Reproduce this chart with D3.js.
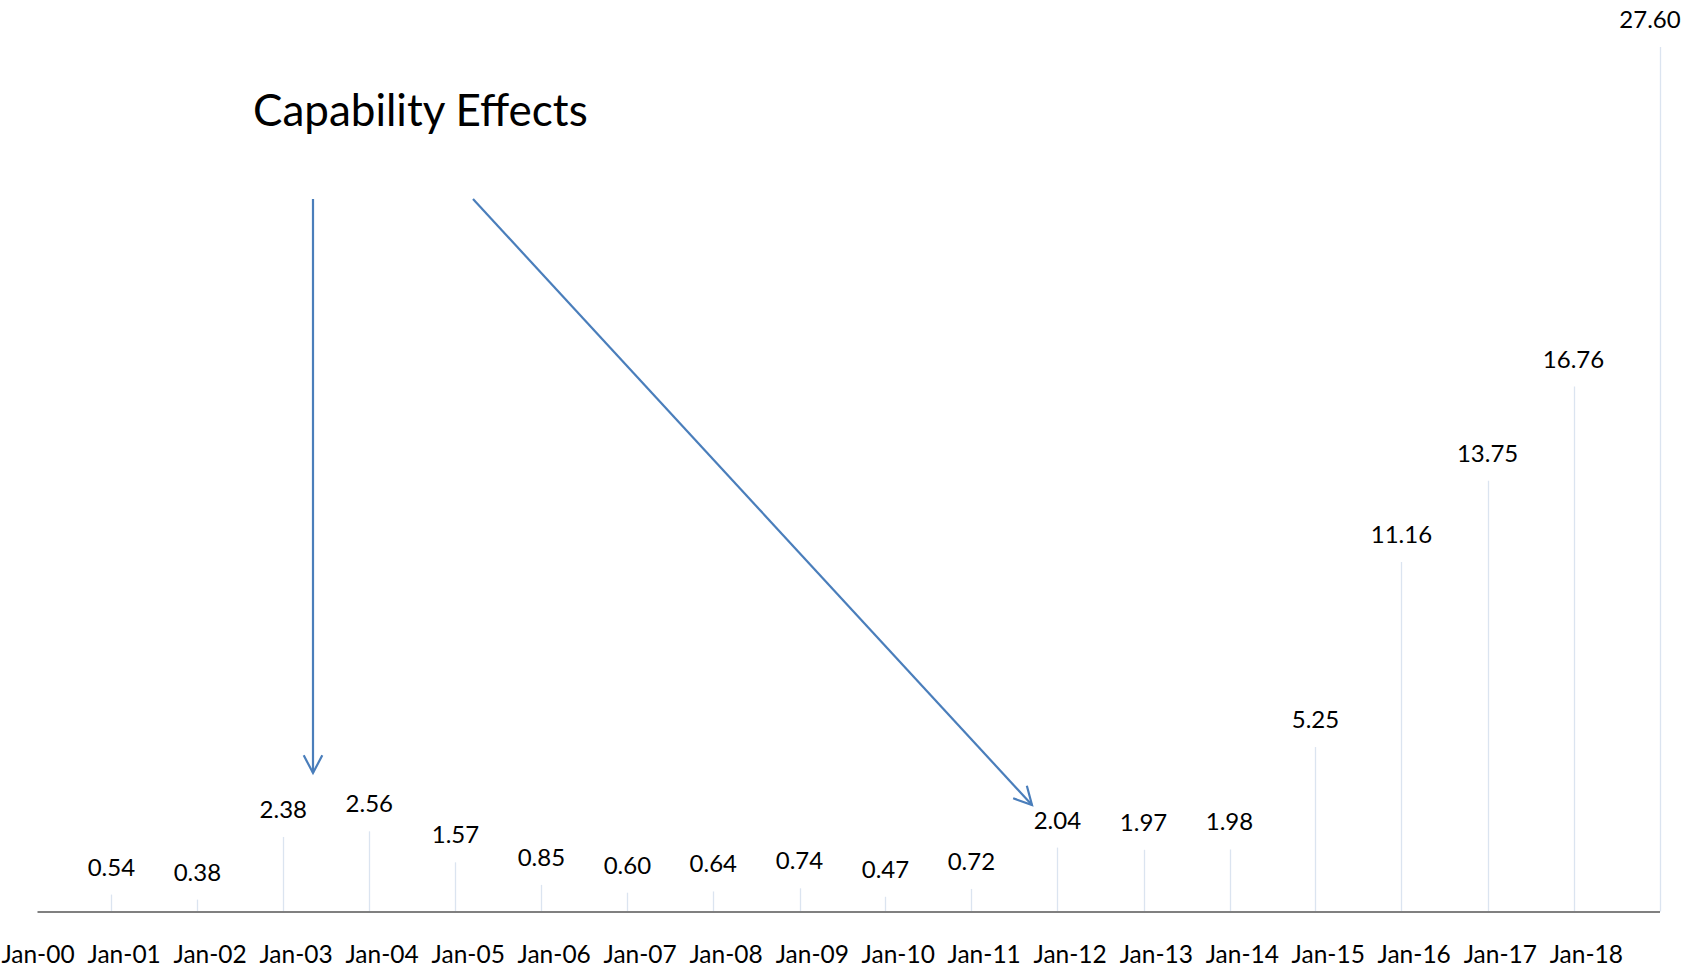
<!DOCTYPE html>
<html>
<head>
<meta charset="utf-8">
<script src="https://cdn.jsdelivr.net/npm/d3@7"></script>
<style>
  html, body { margin: 0; padding: 0; background: #ffffff; }
  svg { display: block; }
  text { font-family: Lato, "Open Sans", sans-serif; fill: #000; }
</style>
</head>
<body>
<svg id="chart" width="1700" height="967"></svg>
<script>
// Year-end readings, one per year 2000–2018
const years = [2000, 2001, 2002, 2003, 2004, 2005, 2006, 2007, 2008, 2009,
               2010, 2011, 2012, 2013, 2014, 2015, 2016, 2017, 2018];
const values = [0.54, 0.38, 2.38, 2.56, 1.57, 0.85, 0.60, 0.64, 0.74, 0.47,
                0.72, 2.04, 1.97, 1.98, 5.25, 11.16, 13.75, 16.76, 27.60];
const tickYears = years;
const titleText = "Capability Effects";

const svg = d3.select("#chart");
const axisY = 911.5;

// Readings fall late in each year; axis ticks sit on January 1
const obsDate = y => new Date(y, 10, 12);
const x = d3.scaleTime()
  .domain([new Date(years[0], 0, 1), obsDate(years[years.length - 1])])
  .range([37, 1659.5]);
const y = d3.scaleLinear().domain([0, 27.6]).range([axisY, 47]);

// Drop lines
svg.append("g").selectAll("line")
  .data(values)
  .join("line")
  .attr("x1", (d, i) => Math.round(x(obsDate(years[i]))) + 0.5)
  .attr("x2", (d, i) => Math.round(x(obsDate(years[i]))) + 0.5)
  .attr("y1", axisY)
  .attr("y2", d => y(d))
  .attr("stroke", "#dbe4f0")
  .attr("stroke-width", 1.3);

// Value labels
svg.append("g").selectAll("text")
  .data(values)
  .join("text")
  .attr("x", (d, i) => Math.min(x(obsDate(years[i])), 1650))
  .attr("y", d => y(d) - 19)
  .attr("text-anchor", "middle")
  .attr("font-size", 24)
  .text(d => d.toFixed(2));

// Horizontal axis
const xAxis = d3.axisBottom(x)
  .tickValues(tickYears.map(yr => new Date(yr, 0, 1)))
  .tickFormat(d3.timeFormat("%b-%y"))
  .tickSize(0)
  .tickPadding(34);
const gx = svg.append("g").attr("transform", `translate(0,${axisY})`).call(xAxis);
gx.select(".domain").attr("stroke", "#808080").attr("stroke-width", 2.2);
gx.selectAll("text")
  .attr("font-size", 24.5)
  .attr("font-family", "Lato, sans-serif")
  .attr("fill", "#000")
  .attr("dx", 0.5);

// Title
svg.append("text")
  .attr("x", 253)
  .attr("y", 126)
  .attr("font-size", 44)
  .text(titleText);

// Annotation arrows
const arrowColor = "#4a7ebb";
function arrow(x1, y1, x2, y2) {
  svg.append("line")
    .attr("x1", x1).attr("y1", y1).attr("x2", x2).attr("y2", y2)
    .attr("stroke", arrowColor).attr("stroke-width", 2.2);
  const ang = Math.atan2(y2 - y1, x2 - x1);
  const len = 20, spread = Math.PI / 6.5;
  const p1 = [x2 - len * Math.cos(ang - spread), y2 - len * Math.sin(ang - spread)];
  const p2 = [x2 - len * Math.cos(ang + spread), y2 - len * Math.sin(ang + spread)];
  svg.append("path")
    .attr("d", `M${p1[0]},${p1[1]}L${x2},${y2}L${p2[0]},${p2[1]}`)
    .attr("fill", "none").attr("stroke", arrowColor).attr("stroke-width", 2.2)
    .attr("stroke-linejoin", "miter");
}
arrow(313, 199, 313, 773);
arrow(473, 199, 1032, 805);
</script>
</body>
</html>
